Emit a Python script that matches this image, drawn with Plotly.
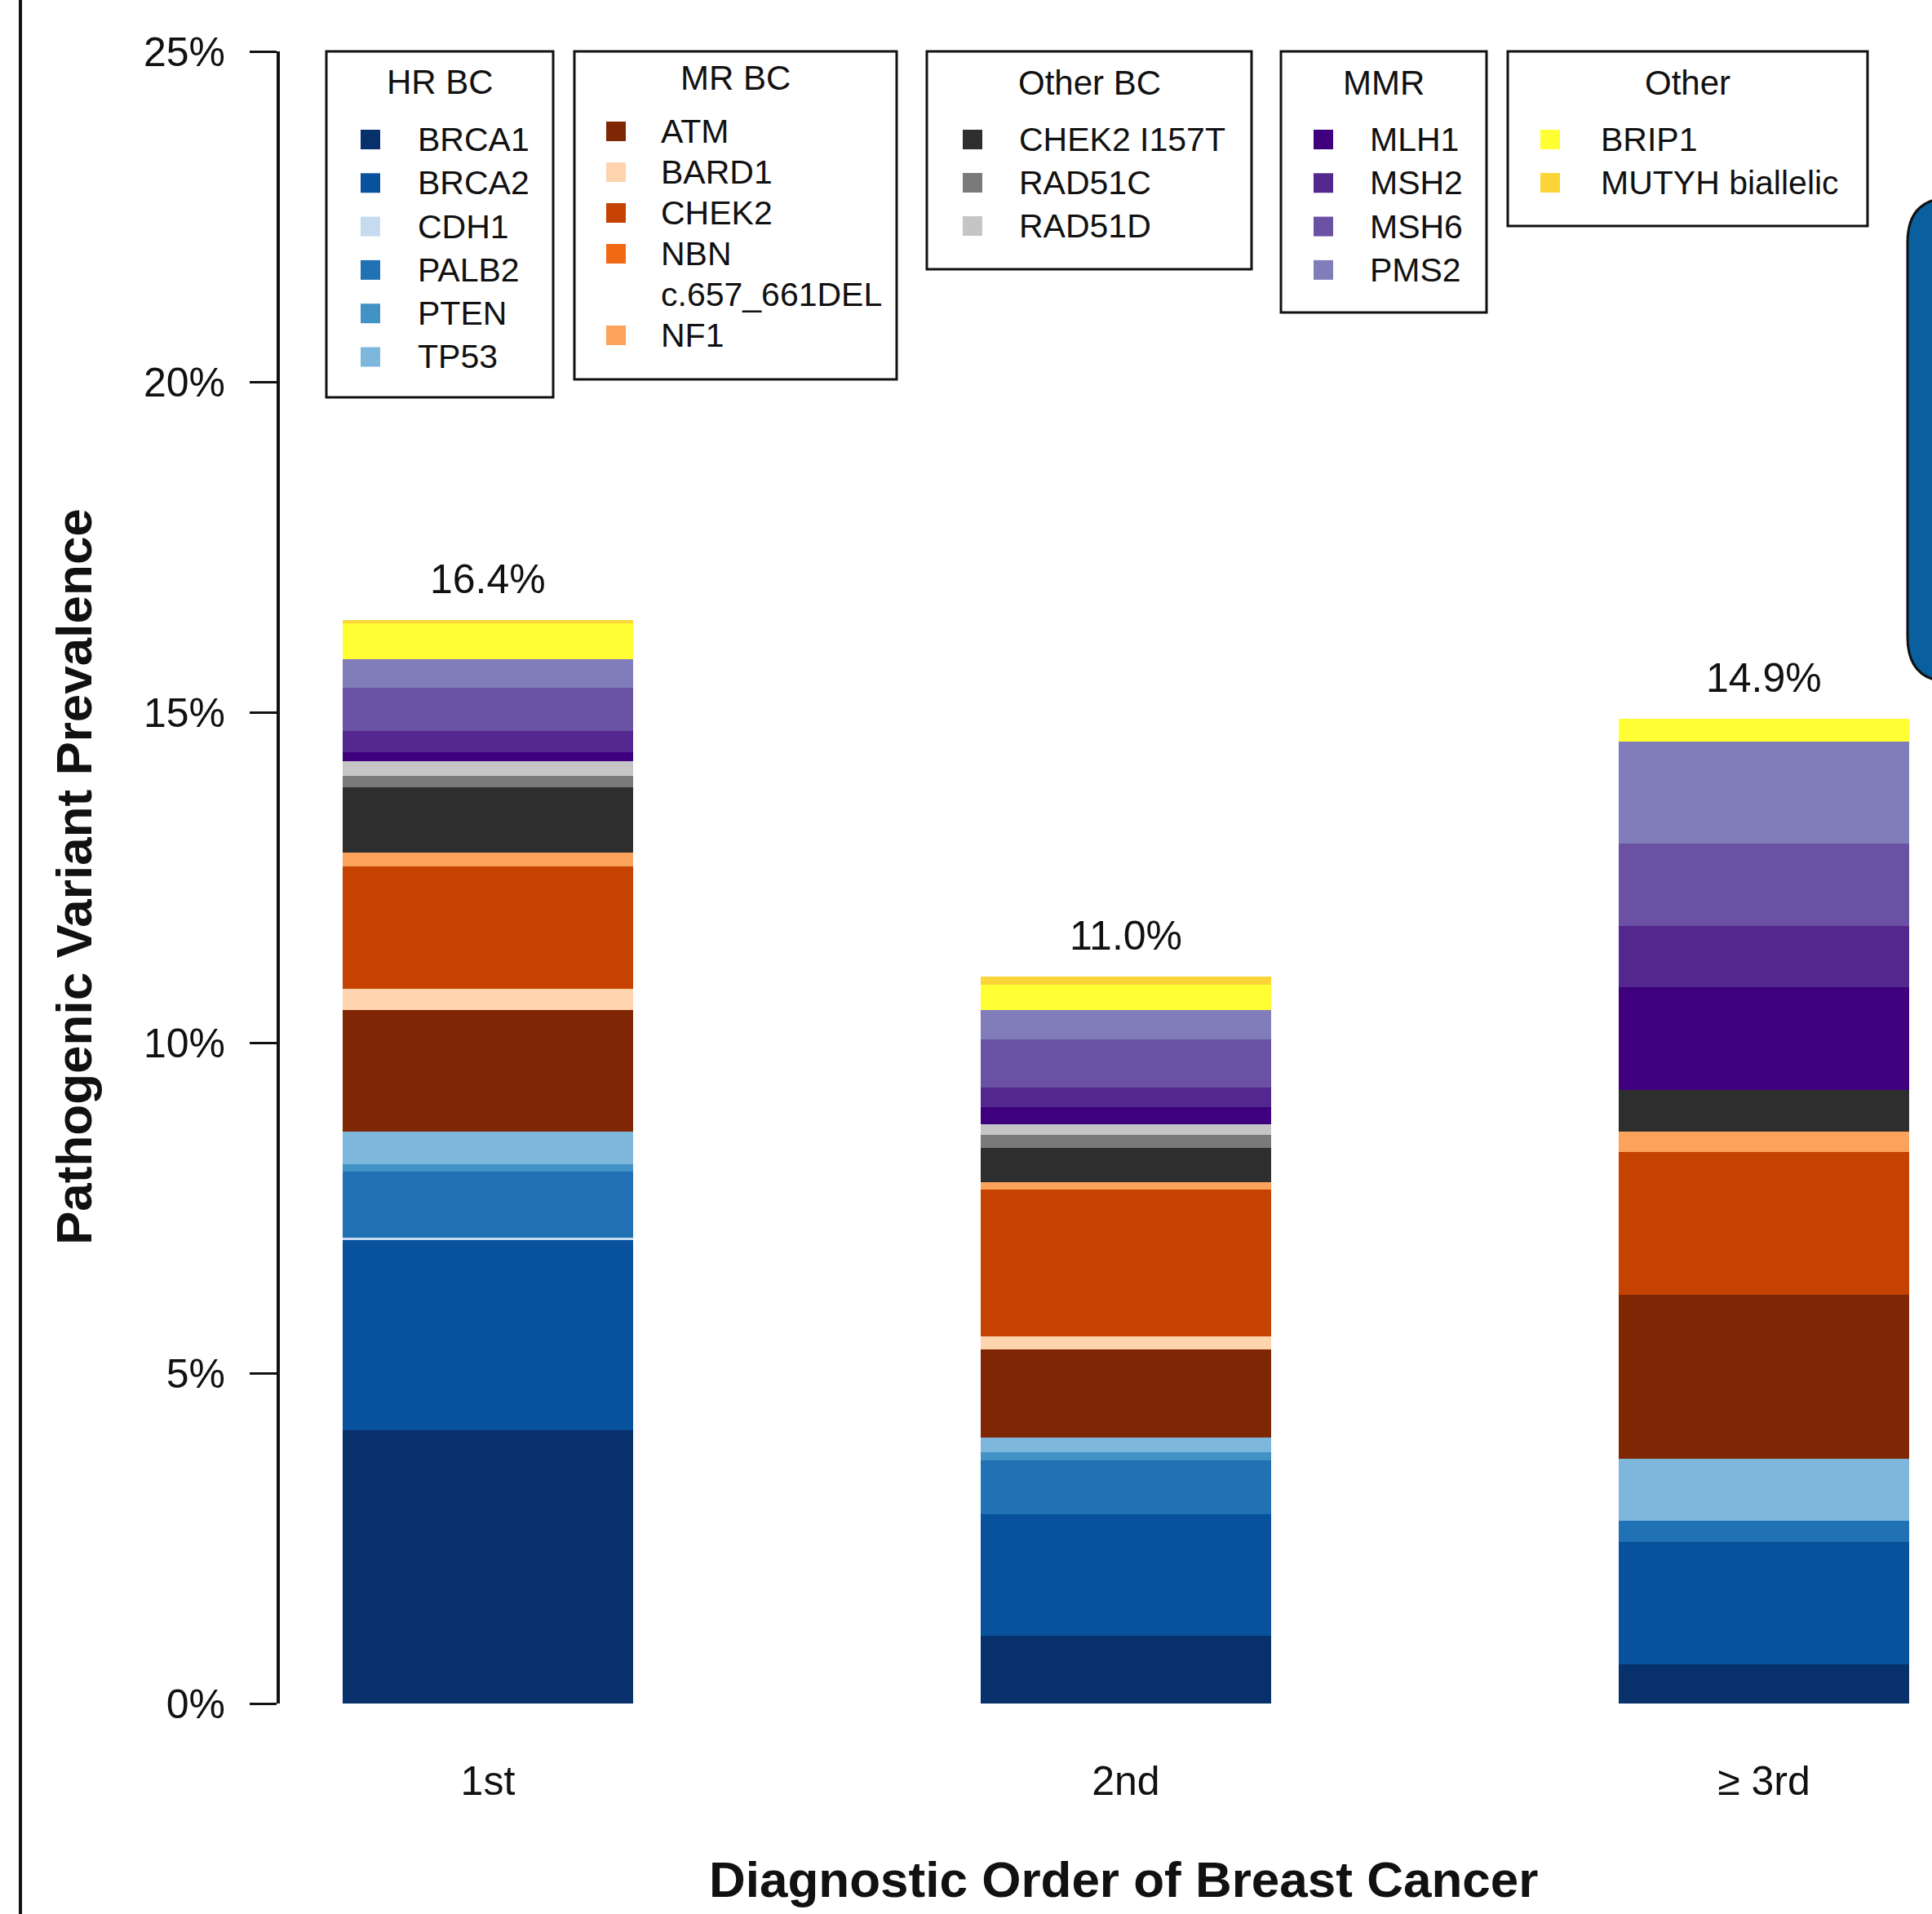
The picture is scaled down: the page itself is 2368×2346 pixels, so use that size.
import plotly.graph_objects as go

# Diagnostic order categories
categories = ["1st", "2nd", "\u2265 3rd"]

# Prevalence (%) of pathogenic variants per gene, by diagnostic order
BRCA1 = [4.13, 1.02, 0.59]
BRCA2 = [2.88, 1.84, 1.86]
CDH1 = [0.04, 0.00, 0.00]
PALB2 = [1.00, 0.82, 0.31]
PTEN = [0.11, 0.12, 0.00]
TP53 = [0.50, 0.22, 0.94]
ATM = [1.83, 1.34, 2.48]
BARD1 = [0.32, 0.19, 0.00]
CHEK2 = [1.86, 2.23, 2.17]
NBN_DEL = [0.00, 0.00, 0.00]
NF1 = [0.21, 0.11, 0.30]
CHEK2_I157T = [0.98, 0.52, 0.64]
RAD51C = [0.18, 0.19, 0.00]
RAD51D = [0.22, 0.17, 0.00]
MLH1 = [0.13, 0.25, 1.55]
MSH2 = [0.32, 0.30, 0.93]
MSH6 = [0.66, 0.73, 1.24]
PMS2 = [0.43, 0.45, 1.54]
BRIP1 = [0.54, 0.38, 0.35]
MUTYH = [0.06, 0.12, 0.00]

# Gene groups, in stacking order (bottom to top)
group_titles = ["HR BC", "MR BC", "Other BC", "MMR", "Other"]
group_genes = [
    ["BRCA1", "BRCA2", "CDH1", "PALB2", "PTEN", "TP53"],
    ["ATM", "BARD1", "CHEK2", "NBN\nc.657_661DEL", "NF1"],
    ["CHEK2 I157T", "RAD51C", "RAD51D"],
    ["MLH1", "MSH2", "MSH6", "PMS2"],
    ["BRIP1", "MUTYH biallelic"],
]
group_values = [
    [BRCA1, BRCA2, CDH1, PALB2, PTEN, TP53],
    [ATM, BARD1, CHEK2, NBN_DEL, NF1],
    [CHEK2_I157T, RAD51C, RAD51D],
    [MLH1, MSH2, MSH6, PMS2],
    [BRIP1, MUTYH],
]
group_colors = [
    ["#08306b", "#08519c", "#c6dbef", "#2171b5", "#4292c6", "#7db7dc"],
    ["#7f2704", "#fdd4ae", "#c54200", "#f16913", "#fba35c"],
    ["#2e2e2e", "#7a7a7a", "#c5c5c5"],
    ["#3f007d", "#54278f", "#6a51a3", "#807dba"],
    ["#ffff33", "#fbd537"],
]

FONT = "Liberation Sans, Arial, Helvetica, sans-serif"
FIG_W, FIG_H = 2368, 2346
L, R, T, B = 343, 0, 63, 258
PW = FIG_W - L - R
PH = FIG_H - T - B


def px(x):
    return (x - L) / PW


def py(y):
    return (FIG_H - B - y) / PH


fig = go.Figure()

# stacked bars
for genes, vals, cols in zip(group_genes, group_values, group_colors):
    for g, v, c in zip(genes, vals, cols):
        fig.add_trace(go.Bar(
            x=categories, y=v, name=g.replace("\n", " "),
            marker=dict(color=c, line=dict(width=0)),
            width=0.455, showlegend=False,
        ))

# totals above each bar
totals = [sum(vals[i] for grp in group_values for vals in grp) for i in range(len(categories))]
annotations = []
for cat, tot in zip(categories, totals):
    annotations.append(dict(
        x=cat, y=tot, xref="x", yref="y", text=f"{tot:.1f}%",
        showarrow=False, yanchor="middle", yshift=50,
        font=dict(family=FONT, size=50, color="#111"),
    ))

shapes = []

# grouped legend boxes: (x0, x1, y0, y1, title_y, first_row_y, row_step, square_x, label_x)
boxes = [
    (400, 678, 63, 487, 100, 171, 53.3, 442, 510),
    (704, 1099, 63, 465, 95, 161, 50.0, 743, 808),
    (1136, 1534, 63, 330, 101, 171, 53.0, 1180, 1247),
    (1570, 1822, 63, 383, 101, 171, 53.3, 1610, 1677),
    (1848, 2289, 63, 277, 101, 171, 53.0, 1888, 1960),
]
SQ = 24
for (x0, x1, y0, y1, ty, ry, step, sx, lx), title, genes, cols in zip(
        boxes, group_titles, group_genes, group_colors):
    shapes.append(dict(type="rect", xref="paper", yref="paper",
                       x0=px(x0), x1=px(x1), y0=py(y0), y1=py(y1),
                       line=dict(color="#111", width=3), fillcolor="white", layer="above"))
    annotations.append(dict(
        x=px((x0 + x1) / 2), y=py(ty), xref="paper", yref="paper", text=title,
        showarrow=False, xanchor="center", yanchor="middle",
        font=dict(family=FONT, size=42, color="#111"),
    ))
    row = 0
    for g, c in zip(genes, cols):
        yc = ry + row * step
        shapes.append(dict(type="rect", xref="paper", yref="paper",
                           x0=px(sx), x1=px(sx + SQ), y0=py(yc - SQ / 2), y1=py(yc + SQ / 2),
                           line=dict(width=0), fillcolor=c, layer="above"))
        for line in g.split("\n"):
            yc = ry + row * step
            annotations.append(dict(
                x=px(lx), y=py(yc), xref="paper", yref="paper", text=line,
                showarrow=False, xanchor="left", yanchor="middle",
                font=dict(family=FONT, size=41, color="#111"),
            ))
            row += 1

# axis titles
annotations.append(dict(
    x=px(90), y=py(1075), xref="paper", yref="paper",
    text="<b>Pathogenic Variant Prevalence</b>", textangle=-90,
    showarrow=False, xanchor="center", yanchor="middle",
    font=dict(family=FONT, size=62, color="#111"),
))
annotations.append(dict(
    x=px(1377), y=py(2303), xref="paper", yref="paper",
    text="<b>Diagnostic Order of Breast Cancer</b>",
    showarrow=False, xanchor="center", yanchor="middle",
    font=dict(family=FONT, size=62, color="#111"),
))

# page frame on the left and the blue panel edge on the right
shapes.append(dict(type="line", xref="paper", yref="paper",
                   x0=px(25), x1=px(25), y0=py(0), y1=py(FIG_H),
                   line=dict(color="#111", width=4)))
bx0, bx1, by0, by1, r = 2338, 2450, 242, 836, 55
path = (f"M {px(bx0)} {py(by0 + r)} Q {px(bx0)} {py(by0)} {px(bx0 + r)} {py(by0)} "
        f"L {px(bx1)} {py(by0)} L {px(bx1)} {py(by1)} L {px(bx0 + r)} {py(by1)} "
        f"Q {px(bx0)} {py(by1)} {px(bx0)} {py(by1 - r)} Z")
shapes.append(dict(type="path", xref="paper", yref="paper", path=path,
                   fillcolor="#0a5f9f", line=dict(color="#111", width=3), layer="above"))

fig.update_layout(
    width=FIG_W, height=FIG_H,
    margin=dict(l=L, r=R, t=T, b=B, pad=0),
    barmode="stack",
    plot_bgcolor="white", paper_bgcolor="white",
    font=dict(family=FONT, color="#111"),
    annotations=annotations, shapes=shapes,
    xaxis=dict(
        type="category", range=[-0.326, 2.2635],
        showline=False, showgrid=False, zeroline=False, ticks="",
        tickfont=dict(family=FONT, size=50, color="#111"),
        ticklabelstandoff=61,
    ),
    yaxis=dict(
        range=[0, 25], tickvals=[0, 5, 10, 15, 20, 25],
        ticktext=["0%", "5%", "10%", "15%", "20%", "25%"],
        showline=True, linecolor="#111", linewidth=4,
        ticks="outside", ticklen=33, tickwidth=3, tickcolor="#111",
        showgrid=False, zeroline=False,
        tickfont=dict(family=FONT, size=50, color="#111"),
        ticklabelstandoff=20,
    ),
)

fig.write_html("out.html")
